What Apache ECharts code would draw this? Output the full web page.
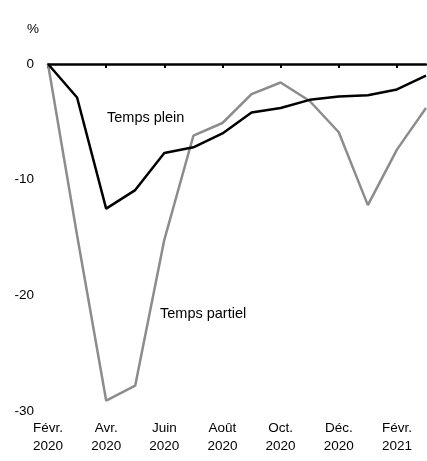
<!DOCTYPE html>
<html><head><meta charset="utf-8">
<script src="https://cdn.jsdelivr.net/npm/echarts@6/dist/echarts.min.js"></script>
<style>html,body{margin:0;padding:0;background:#fff}#c{width:427px;height:461px}</style>
</head><body><div id="c"></div>
<script>
const categories = ['Févr.\n2020','Mars\n2020','Avr.\n2020','Mai\n2020','Juin\n2020','Juil.\n2020','Août\n2020','Sept.\n2020','Oct.\n2020','Nov.\n2020','Déc.\n2020','Janv.\n2021','Févr.\n2021','Mars\n2021'];
const tempsPlein = [0, -2.9, -12.5, -10.9, -7.7, -7.2, -6.0, -4.2, -3.8, -3.1, -2.8, -2.7, -2.2, -1.0];
const tempsPartiel = [0, -14.8, -29.1, -27.8, -15.2, -6.2, -5.1, -2.6, -1.6, -3.2, -5.9, -12.2, -7.4, -3.8];
const yTicks = [0, -10, -20, -30];
const seriesNames = ['Temps plein', 'Temps partiel'];

const chart = echarts.init(document.getElementById('c'), null, {renderer: 'canvas'});
const font = 'Liberation Sans, Arial, sans-serif';
chart.setOption({
  animation: false,
  grid: {left: 48, right: 1, top: 64, bottom: 50},
  xAxis: [{
    type: 'category', data: categories, boundaryGap: false, position: 'bottom',
    axisLine: {show: false}, axisTick: {show: false},
    axisLabel: {interval: 1, color: '#000', fontFamily: font, fontSize: 13.5, lineHeight: 18, margin: 8}
  }, {
    type: 'category', data: categories, boundaryGap: false, position: 'top',
    axisLine: {show: true, lineStyle: {color: '#000', width: 2.5}},
    axisTick: {show: true, inside: true, interval: 1, length: 4, lineStyle: {color: '#000', width: 2}},
    axisLabel: {show: false}
  }],
  yAxis: {
    type: 'value', min: -30, max: 0, interval: 10,
    axisLine: {show: false}, axisTick: {show: false}, splitLine: {show: false},
    axisLabel: {color: '#000', fontFamily: font, fontSize: 13.5, margin: 14,
      formatter: v => yTicks.includes(v) ? String(v) : ''}
  },
  graphic: [
    {type: 'text', left: 27, top: 22, style: {text: '%', fill: '#000', font: '13.5px ' + font}},
    {type: 'text', left: 107, top: 110, style: {text: seriesNames[0], fill: '#000', font: '14.5px ' + font}},
    {type: 'text', left: 160, top: 306, style: {text: seriesNames[1], fill: '#000', font: '14.5px ' + font}}
  ],
  series: [
    {name: seriesNames[1], type: 'line', data: tempsPartiel, symbol: 'none', z: 2,
     lineStyle: {color: '#8c8c8c', width: 2.5}},
    {name: seriesNames[0], type: 'line', data: tempsPlein, symbol: 'none', z: 3,
     lineStyle: {color: '#000', width: 2.5}}
  ]
});
</script></body></html>
